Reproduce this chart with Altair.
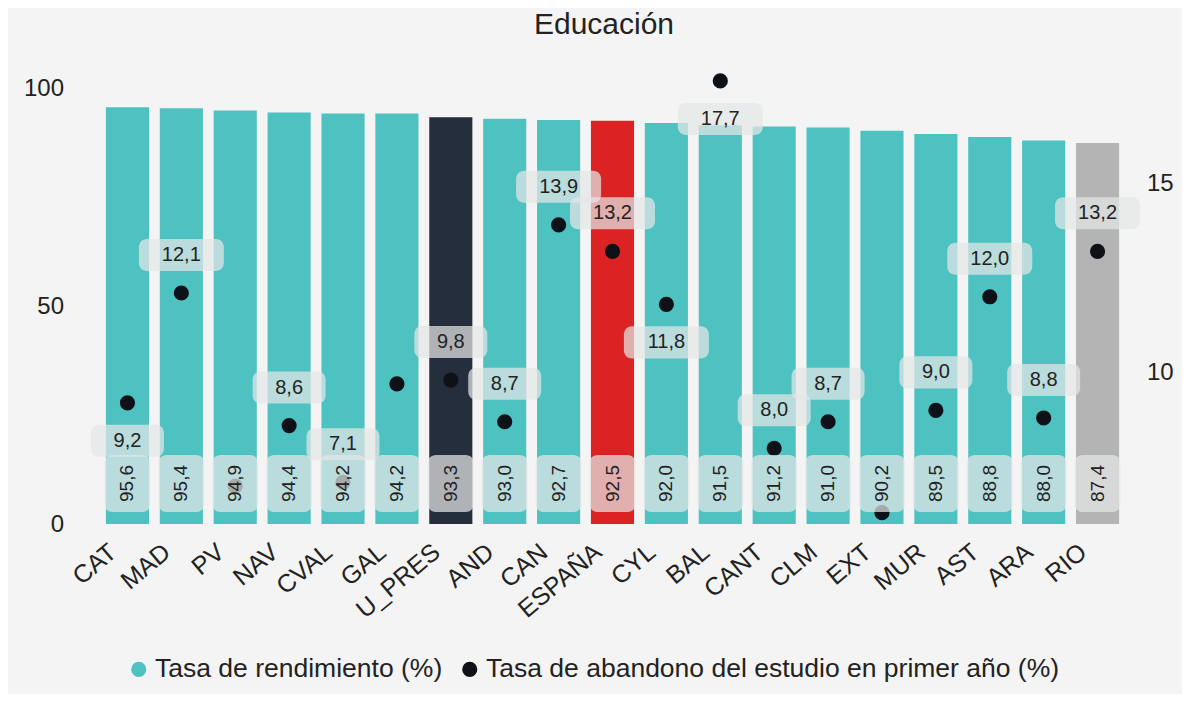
import altair as alt
import pandas as pd

regiones = ["CAT", "MAD", "PV", "NAV", "CVAL", "GAL", "U_PRES", "AND", "CAN", "ESPAÑA",
            "CYL", "BAL", "CANT", "CLM", "EXT", "MUR", "AST", "ARA", "RIO"]
rendimiento = [95.6, 95.4, 94.9, 94.4, 94.2, 94.2, 93.3, 93.0, 92.7, 92.5,
               92.0, 91.5, 91.2, 91.0, 90.2, 89.5, 88.8, 88.0, 87.4]
abandono = [9.2, 12.1, 7.0, 8.6, 7.1, 9.7, 9.8, 8.7, 13.9, 13.2,
            11.8, 17.7, 8.0, 8.7, 6.3, 9.0, 12.0, 8.8, 13.2]
posicion_etiqueta = ["abajo", "arriba", "oculta", "arriba", "arriba", "oculta", "arriba", "arriba",
                     "arriba", "arriba", "abajo", "abajo", "arriba", "arriba", "oculta", "arriba",
                     "arriba", "arriba", "arriba"]
titulo = "Educación"

S_REND = "Tasa de rendimiento (%)"
S_ABAN = "Tasa de abandono del estudio en primer año (%)"
destacados = {"U_PRES": "#252E3D", "ESPAÑA": "#DC2323", "RIO": "#B4B4B4"}

df = pd.DataFrame({
    "region": regiones,
    "rend": rendimiento,
    "aband": abandono,
    "pos": posicion_etiqueta,
})
df["grupo"] = [r if r in destacados else S_REND for r in regiones]
df["serie"] = S_ABAN

color_domain = [S_REND, S_ABAN] + list(destacados.keys())
color_range = ["#4DC2C0", "#0E1117"] + list(destacados.values())
color_scale = alt.Scale(domain=color_domain, range=color_range)
legend = alt.Legend(
    values=[S_REND, S_ABAN], orient="none", legendX=25, legendY=594,
    direction="horizontal", title=None, symbolType="circle", symbolSize=230,
    labelFontSize=26.5, labelFont="Liberation Sans", labelColor="#222222",
    labelOffset=3, columnPadding=14, symbolStrokeWidth=0, labelLimit=1000,
)

FONT = "Liberation Sans"
x = alt.X("region:N", sort=regiones, title=None,
          scale=alt.Scale(paddingInner=0.2, paddingOuter=0.1),
          axis=alt.Axis(labelAngle=-40, labelFontSize=25, labelPadding=15, labelOffset=-22,
                        labelColor="#222222", labelFont=FONT))

base = alt.Chart(df)

barras = base.mark_bar().encode(
    x=x,
    y=alt.Y("rend:Q", title=None,
            scale=alt.Scale(domain=[0, 106], nice=False, zero=True),
            axis=alt.Axis(values=[0, 50, 100], orient="left", labelPadding=37,
                          labelFontSize=24, labelColor="#222222", labelFont=FONT)),
    color=alt.Color("grupo:N", scale=color_scale, legend=legend),
)

OFF = 38 / 37.85
HALF = 16 / 37.85

puntos = base.mark_circle(size=230, opacity=1).encode(
    x=x,
    y=alt.Y("aband:Q", title=None,
            scale=alt.Scale(domain=[6, 18.2], nice=False, zero=False),
            axis=alt.Axis(values=[10, 15], orient="right", labelPadding=22,
                          labelFontSize=24, labelColor="#222222", labelFont=FONT)),
    color=alt.Color("serie:N", scale=color_scale, legend=legend),
)

caja_barra = base.mark_bar(width=46, cornerRadius=8, color="#E4E6E6", opacity=0.72).encode(
    x=x, y=alt.value(393), y2=alt.value(450),
)

texto_barra = base.transform_calculate(
    t="replace(format(datum.rend, '.1f'), '.', ',')"
).mark_text(angle=270, fontSize=19, font=FONT, color="#222222",
            align="center", baseline="middle").encode(
    x=x, y=alt.value(421.5), text="t:N",
)

etiquetas = base.transform_filter(
    "datum.pos != 'oculta'"
).transform_calculate(
    c=f"datum.aband + (datum.pos == 'arriba' ? {OFF} : -{OFF})",
    c1=f"datum.aband + (datum.pos == 'arriba' ? {OFF} : -{OFF}) - {HALF}",
    c2=f"datum.aband + (datum.pos == 'arriba' ? {OFF} : -{OFF}) + {HALF}",
    t="replace(format(datum.aband, '.1f'), '.', ',')",
)

caja_p3 = etiquetas.transform_filter("datum.aband < 10").mark_bar(
    width=73, cornerRadius=8, color="#E4E6E6", opacity=0.72).encode(
    x=x, y=alt.Y("c1:Q"), y2="c2:Q")
caja_p4 = etiquetas.transform_filter("datum.aband >= 10").mark_bar(
    width=85, cornerRadius=8, color="#E4E6E6", opacity=0.72).encode(
    x=x, y=alt.Y("c1:Q"), y2="c2:Q")
texto_p = etiquetas.mark_text(fontSize=20, font=FONT, color="#222222",
                              align="center", baseline="middle").encode(
    x=x, y=alt.Y("c:Q"), text="t:N")

titulo_txt = alt.Chart(pd.DataFrame({"t": [titulo]})).mark_text(
    fontSize=30, font=FONT, color="#222222", align="center", baseline="middle"
).encode(x=alt.value(503.5), y=alt.value(-37), text="t:N")

capa_der = alt.layer(puntos, caja_barra, texto_barra, caja_p3, caja_p4, texto_p, titulo_txt)

chart = alt.layer(barras, capa_der).resolve_scale(y="independent").properties(
    width=1024, height=462,
    padding={"left": 92.5, "top": 54, "right": 57.5, "bottom": 170},
    autosize=alt.AutoSizeParams(type="none"),
    background="#F4F4F4",
).configure_view(stroke=None).configure_axis(
    domain=False, ticks=False, grid=False
)

chart.save("out.html", embed_options={"renderer": "svg", "actions": False})
